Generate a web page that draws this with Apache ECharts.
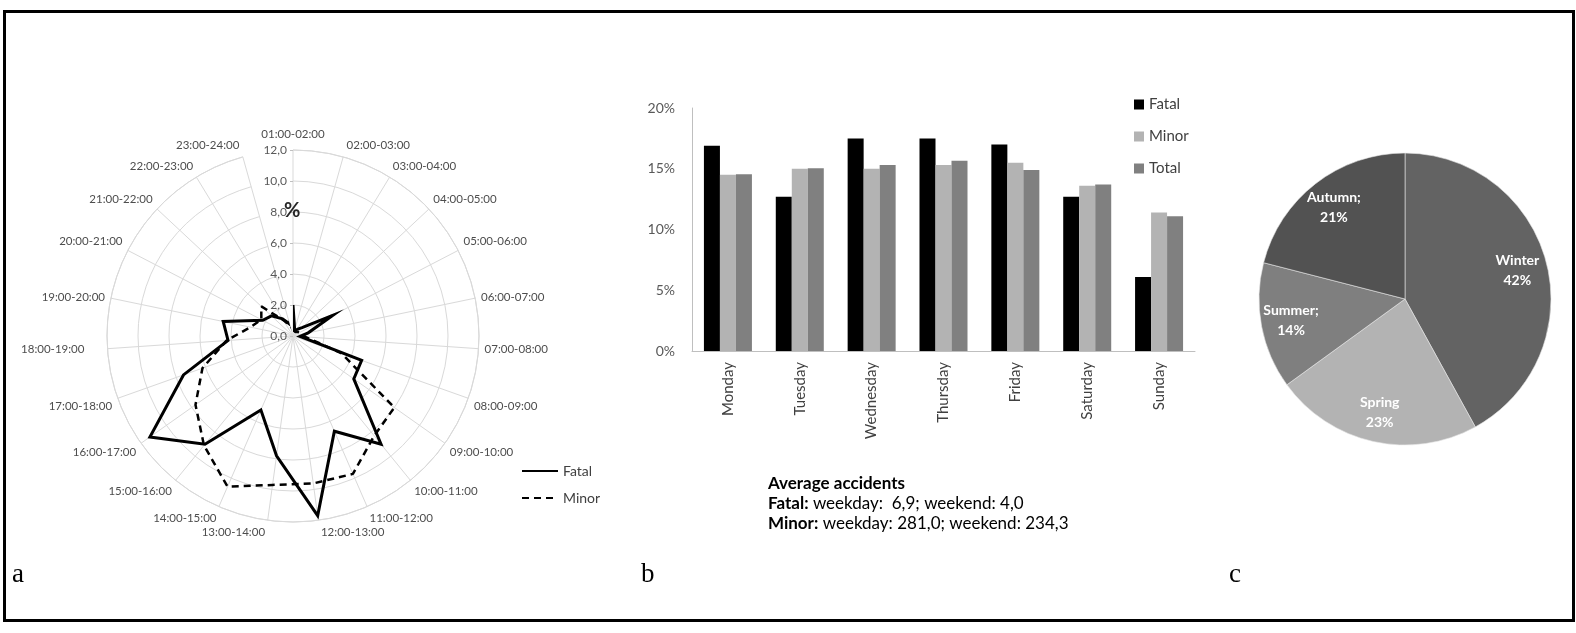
<!DOCTYPE html>
<html>
<head>
<meta charset="utf-8">
<script src="https://cdn.jsdelivr.net/npm/echarts@6/dist/echarts.min.js"></script>
<style>
  html, body { margin: 0; padding: 0; background: #fff; }
  #chart { width: 1576px; height: 633px; }
</style>
</head>
<body>
<div id="chart"></div>
<script>
// Panel a: accidents by hour of day (% of total)
const hours = [
  '01:00-02:00', '02:00-03:00', '03:00-04:00', '04:00-05:00', '05:00-06:00', '06:00-07:00',
  '07:00-08:00', '08:00-09:00', '09:00-10:00', '10:00-11:00', '11:00-12:00', '12:00-13:00',
  '13:00-14:00', '14:00-15:00', '15:00-16:00', '16:00-17:00', '17:00-18:00', '18:00-19:00',
  '19:00-20:00', '20:00-21:00', '21:00-22:00', '22:00-23:00', '23:00-24:00'
];
const fatalByHour = [2.0, 0.4, 0.5, 0.8, 2.9, 1.0, 0.45, 4.7, 4.8, 9.0, 6.7, 11.7,
                     7.8, 5.2, 9.0, 11.3, 7.5, 4.2, 4.6, 2.2, 1.9, 1.3, 0.8];
const minorByHour = [0.4, 0.3, 0.3, 0.4, 0.5, 0.6, 0.8, 3.3, 8.0, 8.3, 9.7, 9.6,
                     9.7, 10.6, 9.1, 7.7, 6.2, 4.3, 2.8, 2.3, 2.8, 1.2, 0.7];

// Panel b: accidents by weekday (%)
const days = ['Monday', 'Tuesday', 'Wednesday', 'Thursday', 'Friday', 'Saturday', 'Sunday'];
const fatalByDay = [16.9, 12.7, 17.5, 17.5, 17.0, 12.7, 6.1];
const minorByDay = [14.5, 15.0, 15.0, 15.3, 15.5, 13.6, 11.4];
const totalByDay = [14.55, 15.05, 15.3, 15.65, 14.9, 13.7, 11.1];
const avgFatal = [6.9, 4.0];    // weekday, weekend
const avgMinor = [281.0, 234.3];

// Panel c: accidents by season (%)
const seasons = ['Winter', 'Spring', 'Summer', 'Autumn'];
const seasonShares = [42, 23, 14, 21];
const seasonLabelSep = ['', '', ';', ';'];

const seasonColors = ['#636363', '#b3b3b3', '#7f7f7f', '#525252'];
const FONT = 'Lato';
const HOUR_LABEL = { fontSize: 11.5, color: '#4d4d4d', fontFamily: FONT };
const PIE_C = [1405, 299];
const PIE_R = 146;

const comma = (v, d) => v.toFixed(d).replace('.', ',');
// polar line needs the first point repeated to close the shape
const closeLoop = arr => arr.map((v, i) => [v, i]).concat([[arr[0], 0]]);

// echarts centres the hour labels near top/bottom; excel pushes them to one side
function hourLabel(val, idx) {
  const a = idx / hours.length * 2 * Math.PI;
  const s = Math.sin(a), c = Math.cos(a);
  if (idx === 0) return '{t|' + val + '}';
  if (Math.abs(s) < 0.3) return (s > 0 ? '{l|' : '{r|') + val + '}';
  if (Math.abs(c) < 0.1 && s < 0) return '{f|' + val + '}';
  return '{n|' + val + '}';
}

const chart = echarts.init(document.getElementById('chart'));

const option = {
  animation: false,
  backgroundColor: '#fff',
  textStyle: { fontFamily: FONT },
  title: [
    { text: 'a', left: 12, top: 561, padding: 0,
      textStyle: { fontFamily: 'Liberation Serif', fontSize: 27, fontWeight: 'normal', color: '#000' } },
    { text: 'b', left: 641, top: 561, padding: 0,
      textStyle: { fontFamily: 'Liberation Serif', fontSize: 27, fontWeight: 'normal', color: '#000' } },
    { text: 'c', left: 1229, top: 561, padding: 0,
      textStyle: { fontFamily: 'Liberation Serif', fontSize: 27, fontWeight: 'normal', color: '#000' } },
    { text: '%', left: 284, top: 201, padding: 0,
      textStyle: { fontFamily: FONT, fontSize: 20, fontWeight: 'bold', color: '#262626' } },
    {
      left: 768, top: 474, padding: 0,
      text: '{h|Average accidents}\n' +
            '{h|Fatal:} weekday:  ' + comma(avgFatal[0], 1) + '; weekend: ' + comma(avgFatal[1], 1) + '\n' +
            '{h|Minor:} weekday: ' + comma(avgMinor[0], 1) + '; weekend: ' + comma(avgMinor[1], 1),
      textStyle: {
        fontFamily: FONT, fontSize: 17, fontWeight: 'normal', color: '#000', lineHeight: 20,
        rich: { h: { fontFamily: FONT, fontSize: 17, fontWeight: 'bold', color: '#000', lineHeight: 20 } }
      }
    }
  ],
  graphic: [
    { type: 'rect', silent: true, shape: { x: 4.5, y: 11.5, width: 1569, height: 609 },
      style: { fill: 'none', stroke: '#000', lineWidth: 3 } }
  ],
  legend: [
    {
      data: ['Fatal (hourly)', 'Minor (hourly)'],
      orient: 'vertical', left: 516, top: 459, itemWidth: 36, itemHeight: 14, itemGap: 13,
      formatter: n => n.split(' ')[0],
      itemStyle: { opacity: 0 },
      textStyle: { fontSize: 14, color: '#404040', fontFamily: FONT }
    },
    {
      data: ['Fatal', 'Minor', 'Total'],
      orient: 'vertical', left: 1129, top: 92, itemWidth: 10, itemHeight: 10, itemGap: 17,
      icon: 'rect',
      textStyle: { fontSize: 15, color: '#404040', fontFamily: FONT }
    }
  ],
  polar: { center: [293, 336], radius: 186 },
  angleAxis: {
    type: 'category', data: hours, startAngle: 90, clockwise: true, boundaryGap: false,
    axisLine: { lineStyle: { color: '#d9d9d9', width: 1 } },
    axisTick: { show: false, interval: 0 },
    axisLabel: {
      interval: 0, margin: 6, formatter: hourLabel, ...HOUR_LABEL,
      rich: {
        n: { ...HOUR_LABEL },
        t: { ...HOUR_LABEL, padding: [0, 0, 4, 0] },
        l: { ...HOUR_LABEL, padding: [0, 0, 0, 67] },
        r: { ...HOUR_LABEL, padding: [0, 67, 0, 0] },
        f: { ...HOUR_LABEL, padding: [0, 17, 0, 0] }
      }
    },
    splitLine: { show: true, interval: 0, lineStyle: { color: '#d9d9d9', width: 1 } }
  },
  radiusAxis: {
    type: 'value', min: 0, max: 12, interval: 2,
    axisLine: { show: false },
    axisTick: { show: true, length: 3, lineStyle: { color: '#bfbfbf' } },
    axisLabel: { formatter: v => comma(v, 1), color: '#595959', fontSize: 12, fontFamily: FONT, margin: 6 },
    splitLine: { show: true, lineStyle: { color: '#d9d9d9', width: 1 } }
  },
  grid: { left: 692, top: 108, width: 503, height: 243 },
  xAxis: {
    type: 'category', data: days,
    axisLine: { lineStyle: { color: '#bfbfbf' } },
    axisTick: { show: false },
    axisLabel: { rotate: 90, interval: 0, fontSize: 15, color: '#404040', fontFamily: FONT, margin: 11 }
  },
  yAxis: {
    type: 'value', min: 0, max: 20, interval: 5,
    axisLine: { show: true, lineStyle: { color: '#bfbfbf' } },
    axisTick: { show: false },
    splitLine: { show: false },
    axisLabel: { formatter: '{value}%', fontSize: 14, color: '#595959', fontFamily: FONT, margin: 17 }
  },
  series: [
    {
      name: 'Fatal (hourly)', type: 'line', coordinateSystem: 'polar',
      data: closeLoop(fatalByHour), symbol: 'none',
      lineStyle: { color: '#000', width: 3, join: 'miter' }, itemStyle: { color: '#000' }
    },
    {
      name: 'Minor (hourly)', type: 'line', coordinateSystem: 'polar',
      data: closeLoop(minorByHour), symbol: 'none',
      lineStyle: { color: '#000', width: 2.5, type: [7, 5] }, itemStyle: { color: '#000' }
    },
    { name: 'Fatal', type: 'bar', data: fatalByDay, barWidth: 16, barGap: '0%', itemStyle: { color: '#000' } },
    { name: 'Minor', type: 'bar', data: minorByDay, barWidth: 16, barGap: '0%', itemStyle: { color: '#b3b3b3' } },
    { name: 'Total', type: 'bar', data: totalByDay, barWidth: 16, barGap: '0%', itemStyle: { color: '#808080' } },
    {
      type: 'pie', center: PIE_C, radius: PIE_R, startAngle: 90, clockwise: true, silent: true,
      data: seasons.map((n, i) => ({ name: n, value: seasonShares[i], itemStyle: { color: seasonColors[i] } })),
      label: { show: false }, labelLine: { show: false },
      itemStyle: { borderColor: '#e6e6e6', borderWidth: 0.6 }
    },
    {
      // transparent ring used only to place the slice labels further out
      type: 'pie', center: PIE_C, radius: [80, PIE_R], startAngle: 90, clockwise: true, silent: true,
      data: seasons.map((n, i) => ({ name: n, value: seasonShares[i] })),
      itemStyle: { color: 'rgba(0,0,0,0)' },
      labelLine: { show: false },
      label: {
        show: true, position: 'inside',
        formatter: p => p.name + seasonLabelSep[p.dataIndex] + '\n' + p.value + '%',
        color: '#fff', fontWeight: 'bold', fontSize: 14, lineHeight: 20, fontFamily: FONT,
        textBorderWidth: 0
      }
    }
  ]
};

chart.setOption(option);
</script>
</body>
</html>
